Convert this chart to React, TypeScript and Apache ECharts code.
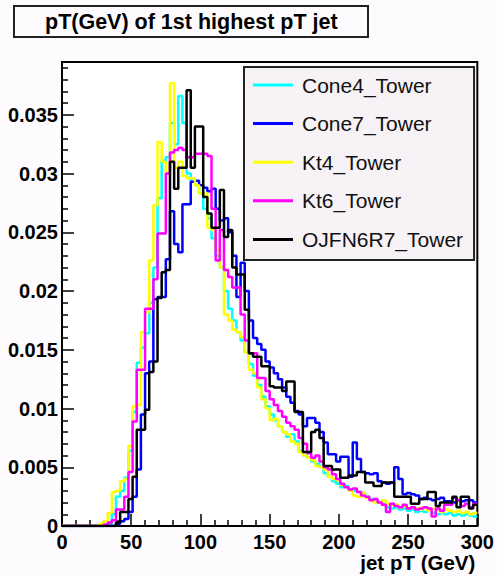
import React, { useEffect, useRef } from "react";
import * as echarts from "echarts";

// Histogram binning: 100 bins of 3 GeV from 0 to 300 GeV
const BIN_WIDTH = 3;
const N_BINS = 100;
const BIN_EDGES: number[] = Array.from({ length: N_BINS + 1 }, (_, i) => i * BIN_WIDTH);

const SERIES_NAMES = ["Cone4_Tower", "Cone7_Tower", "Kt4_Tower", "Kt6_Tower", "OJFN6R7_Tower"];
const SERIES_COLORS = ["#00ffff", "#0000ff", "#ffff00", "#ff00ff", "#000000"];

const X_TICKS = [0, 50, 100, 150, 200, 250, 300];
const Y_TICKS = [0, 0.005, 0.01, 0.015, 0.02, 0.025, 0.03, 0.035];

const cone4Tower = [
  0, 0, 0, 0, 0, 0, 0, 0, 0, 0,
  0.0001, 0.0002, 0.0010, 0.0025, 0.0030, 0.0041, 0.0064, 0.0097, 0.0139, 0.0152,
  0.0164, 0.0190, 0.0220, 0.0279, 0.0311, 0.0314, 0.0343, 0.0325, 0.0366, 0.0343,
  0.0300, 0.0294, 0.0290, 0.0283, 0.0270, 0.0262, 0.0245, 0.0230, 0.0220, 0.0200,
  0.0185, 0.0175, 0.0165, 0.0158, 0.0148, 0.0138, 0.0128, 0.0120, 0.0110, 0.0102,
  0.0095, 0.0090, 0.0085, 0.0080, 0.0076, 0.0078, 0.0072, 0.0064, 0.0060, 0.0058,
  0.0055, 0.0053, 0.0050, 0.0045, 0.0042, 0.0038, 0.0036, 0.0033, 0.0034, 0.0031,
  0.0030, 0.0029, 0.0028, 0.0025, 0.0023, 0.0021, 0.0020, 0.0019, 0.0016, 0.0015,
  0.0016, 0.0014, 0.0015, 0.0013, 0.0014, 0.0012, 0.0013, 0.0012, 0.0013, 0.0011,
  0.0010, 0.0011, 0.0010, 0.0011, 0.0009, 0.0010, 0.0009, 0.0010, 0.0009, 0.0008,
];

const cone7Tower = [
  0, 0, 0, 0, 0, 0, 0, 0, 0, 0,
  0, 0, 0, 0.0002, 0.0004, 0.0006, 0.0012, 0.0025, 0.0048, 0.0095,
  0.0130, 0.0140, 0.0193, 0.0195, 0.0195, 0.0227, 0.0268, 0.0240, 0.0233, 0.0274,
  0.0274, 0.0293, 0.0294, 0.0290, 0.0288, 0.0285, 0.0287, 0.0270, 0.0260, 0.0262,
  0.0250, 0.0230, 0.0195, 0.0224, 0.0200, 0.0175, 0.0160, 0.0155, 0.0150, 0.0140,
  0.0135, 0.0130, 0.0125, 0.0118, 0.0110, 0.0105, 0.0098, 0.0095, 0.0085, 0.0092,
  0.0092, 0.0088, 0.0080, 0.0071, 0.0061, 0.0061, 0.0055, 0.0059, 0.0059, 0.0042,
  0.0071, 0.0057, 0.0046, 0.0045, 0.0044, 0.0045, 0.0038, 0.0037, 0.0036, 0.0037,
  0.0050, 0.0040, 0.0027, 0.0028, 0.0027, 0.0026, 0.0023, 0.0024, 0.0023, 0.0022,
  0.0023, 0.0024, 0.0021, 0.0021, 0.0020, 0.0022, 0.0021, 0.0022, 0.0022, 0.0020,
];

const kt4Tower = [
  0, 0, 0, 0, 0, 0, 0, 0, 0, 0.0002,
  0.0004, 0.0011, 0.0029, 0.0030, 0.0038, 0.0040, 0.0068, 0.0102, 0.0103, 0.0165,
  0.0182, 0.0226, 0.0273, 0.0327, 0.0310, 0.0300, 0.0377, 0.0305, 0.0310, 0.0298,
  0.0296, 0.0296, 0.0290, 0.0283, 0.0283, 0.0254, 0.0252, 0.0235, 0.0220, 0.0180,
  0.0175, 0.0167, 0.0165, 0.0161, 0.0148, 0.0133, 0.0130, 0.0118, 0.0108, 0.0100,
  0.0090, 0.0091, 0.0085, 0.0080, 0.0078, 0.0072, 0.0070, 0.0063, 0.0060, 0.0058,
  0.0056, 0.0051, 0.0050, 0.0048, 0.0042, 0.0040, 0.0039, 0.0035, 0.0033, 0.0030,
  0.0026, 0.0025, 0.0028, 0.0024, 0.0022, 0.0020, 0.0020, 0.0022, 0.0019, 0.0018,
  0.0018, 0.0016, 0.0017, 0.0015, 0.0016, 0.0015, 0.0014, 0.0016, 0.0013, 0.0015,
  0.0014, 0.0012, 0.0014, 0.0013, 0.0012, 0.0013, 0.0011, 0.0012, 0.0010, 0.0011,
];

const kt6Tower = [
  0, 0, 0, 0, 0, 0, 0, 0, 0, 0,
  0.0001, 0.0003, 0.0005, 0.0014, 0.0014, 0.0025, 0.0046, 0.0089, 0.0133, 0.0133,
  0.0185, 0.0185, 0.0210, 0.0249, 0.0249, 0.0300, 0.0318, 0.0320, 0.0322, 0.0320,
  0.0314, 0.0314, 0.0317, 0.0317, 0.0317, 0.0315, 0.0270, 0.0226, 0.0252, 0.0218,
  0.0212, 0.0203, 0.0203, 0.0180, 0.0158, 0.0147, 0.0147, 0.0126, 0.0126, 0.0115,
  0.0108, 0.0103, 0.0098, 0.0093, 0.0088, 0.0085, 0.0082, 0.0075, 0.0070, 0.0062,
  0.0058, 0.0060, 0.0055, 0.0050, 0.0048, 0.0044, 0.0040, 0.0036, 0.0033, 0.0031,
  0.0032, 0.0029, 0.0026, 0.0025, 0.0022, 0.0023, 0.0020, 0.0018, 0.0012, 0.0019,
  0.0017, 0.0016, 0.0018, 0.0015, 0.0016, 0.0014, 0.0015, 0.0016, 0.0015, 0.0008,
  0.0015, 0.0013, 0.0018, 0.0018, 0.0024, 0.0022, 0.0017, 0.0019, 0.0016, 0.0019,
];

const ojfn6r7Tower = [
  0, 0, 0, 0, 0, 0, 0, 0, 0, 0,
  0, 0, 0, 0.0003, 0.0012, 0.0012, 0.0023, 0.0042, 0.0082, 0.0082,
  0.0099, 0.0131, 0.0140, 0.0194, 0.0216, 0.0218, 0.0310, 0.0287, 0.0305, 0.0305,
  0.0371, 0.0305, 0.0340, 0.0340, 0.0280, 0.0266, 0.0254, 0.0254, 0.0286, 0.0246,
  0.0252, 0.0220, 0.0214, 0.0214, 0.0184, 0.0147, 0.0144, 0.0144, 0.0136, 0.0136,
  0.0119, 0.0118, 0.0118, 0.0115, 0.0123, 0.0123, 0.0097, 0.0097, 0.0063, 0.0063,
  0.0080, 0.0082, 0.0075, 0.0051, 0.0051, 0.0048, 0.0048, 0.0041, 0.0041, 0.0043,
  0.0043, 0.0046, 0.0046, 0.0037, 0.0037, 0.0034, 0.0034, 0.0037, 0.0037, 0.0037,
  0.0025, 0.0025, 0.0025, 0.0025, 0.0019, 0.0019, 0.0023, 0.0023, 0.0029, 0.0029,
  0.0017, 0.0020, 0.0020, 0.0020, 0.0025, 0.0016, 0.0025, 0.0025, 0.0015, 0.0018,
];

const SERIES_VALUES = [cone4Tower, cone7Tower, kt4Tower, kt6Tower, ojfn6r7Tower];

const FONT = "'Liberation Sans', Arial, Helvetica, sans-serif";

function toSteps(vals: number[]): [number, number][] {
  return BIN_EDGES.map((e, i) => [e, vals[Math.min(i, vals.length - 1)]]);
}

function yLabel(v: number): string {
  for (const t of Y_TICKS) {
    if (Math.abs(v - t) < 1e-9) return String(t);
  }
  return "";
}

function xLabel(v: number): string {
  for (const t of X_TICKS) {
    if (Math.abs(v - t) < 1e-9) return String(t);
  }
  return "";
}

export default function App() {
  const ref = useRef<HTMLDivElement>(null);

  useEffect(() => {
    if (!ref.current) return;
    const chart = echarts.init(ref.current, null, { renderer: "svg" });

    const option: any = {
      animation: false,
      backgroundColor: "#fdfbfd",
      color: SERIES_COLORS,
      title: {
        text: "pT(GeV) of 1st highest pT jet",
        left: 14,
        top: 6,
        padding: [5, 31, 4, 31],
        backgroundColor: "#fdfbfd",
        borderColor: "#222",
        borderWidth: 2,
        textStyle: {
          fontFamily: FONT,
          fontSize: 21.5,
          fontWeight: "bold",
          color: "#000",
        },
      },
      legend: {
        orient: "vertical",
        left: 244,
        top: 67,
        padding: [7.5, 11, 10, 9],
        itemGap: 17.6,
        itemWidth: 40,
        itemHeight: 3,
        icon: "rect",
        backgroundColor: "#f6f2f6",
        borderColor: "#222",
        borderWidth: 2,
        data: SERIES_NAMES,
        textStyle: {
          fontFamily: FONT,
          fontSize: 21,
          color: "#111",
          padding: [0, 0, 0, 4],
        },
      },
      grid: {
        left: 62,
        right: 17,
        top: 62,
        bottom: 50,
        show: true,
        backgroundColor: "#ffffff",
        borderColor: "#000",
        borderWidth: 2,
      },
      xAxis: {
        type: "value",
        min: 0,
        max: 300,
        interval: 50,
        name: "jet pT (GeV)",
        nameLocation: "end",
        nameGap: -2,
        nameTextStyle: {
          fontFamily: FONT,
          fontSize: 20.5,
          fontWeight: "bold",
          color: "#000",
          align: "right",
          verticalAlign: "top",
          padding: [26, 0, 0, 0],
        },
        axisLine: { show: true, onZero: false, lineStyle: { color: "#000", width: 2 } },
        axisTick: { show: true, inside: true, length: 12, lineStyle: { color: "#000", width: 1.5 } },
        minorTick: { show: true, splitNumber: 5, length: 6, lineStyle: { color: "#000", width: 1.5 } },
        splitLine: { show: false },
        minorSplitLine: { show: false },
        axisLabel: {
          fontFamily: FONT,
          fontSize: 20,
          fontWeight: "bold",
          color: "#000",
          margin: 6,
          formatter: xLabel,
        },
      },
      yAxis: {
        type: "value",
        min: 0,
        max: 0.0395,
        interval: 0.005,
        axisLine: { show: true, onZero: false, lineStyle: { color: "#000", width: 2 } },
        axisTick: { show: true, inside: true, length: 12, lineStyle: { color: "#000", width: 1.5 } },
        minorTick: { show: true, splitNumber: 5, length: 6, lineStyle: { color: "#000", width: 1.5 } },
        splitLine: { show: false },
        minorSplitLine: { show: false },
        axisLabel: {
          fontFamily: FONT,
          fontSize: 20,
          fontWeight: "bold",
          color: "#000",
          margin: 4,
          formatter: yLabel,
        },
      },
      series: SERIES_NAMES.map((name, k) => ({
        name,
        type: "line",
        step: "end",
        symbol: "none",
        data: toSteps(SERIES_VALUES[k]),
        itemStyle: { color: SERIES_COLORS[k] },
        lineStyle: { color: SERIES_COLORS[k], width: 2.5 },
        z: 2 + k * 0.01,
      })),
    };

    chart.setOption(option);
    return () => chart.dispose();
  }, []);

  return (
    <div
      ref={ref}
      style={{ position: "fixed", left: 0, top: 0, width: 497, height: 576 }}
    />
  );
}
